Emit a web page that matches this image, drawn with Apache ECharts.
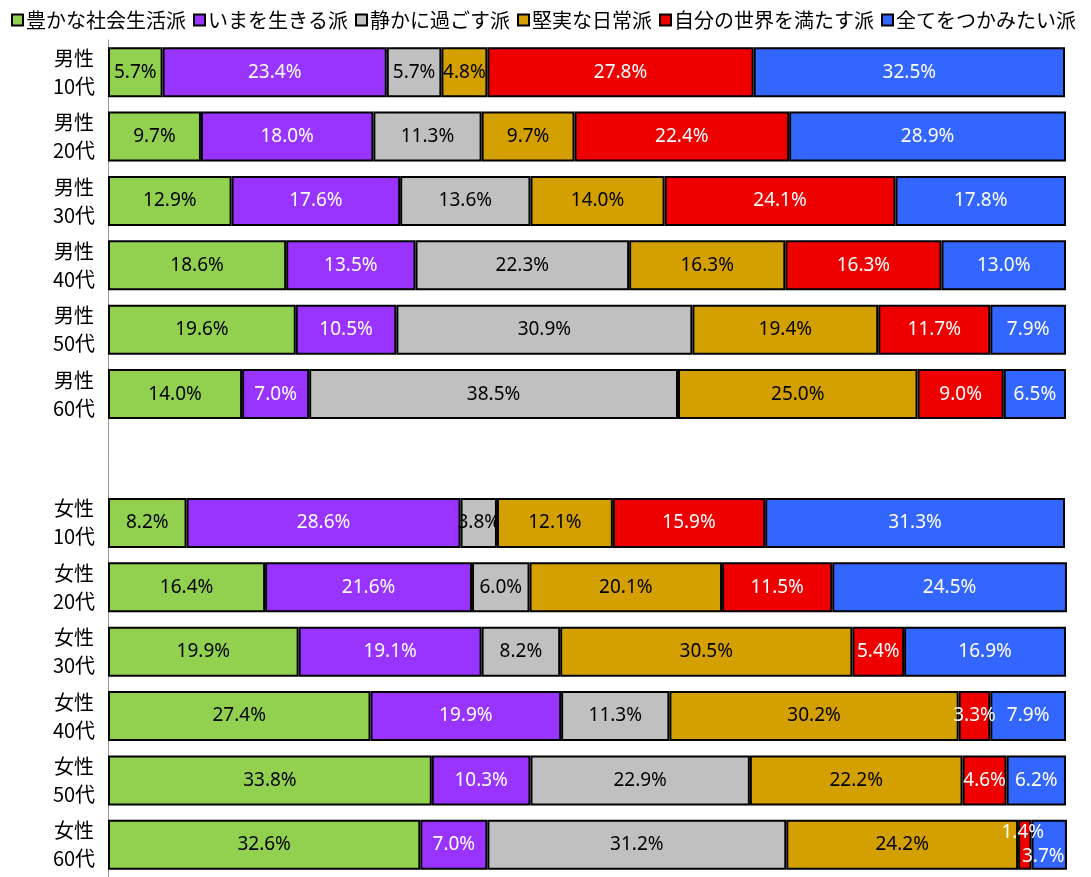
<!DOCTYPE html>
<html><head><meta charset="utf-8">
<script src="https://cdn.jsdelivr.net/npm/echarts@6/dist/echarts.min.js"></script>
<style>html,body{margin:0;padding:0;background:#fff}#c{width:1091px;height:877px}</style>
</head><body><div id="c"></div>
<script>
const categories = ['男性\n10代','男性\n20代','男性\n30代','男性\n40代','男性\n50代','男性\n60代','',
  '女性\n10代','女性\n20代','女性\n30代','女性\n40代','女性\n50代','女性\n60代'];
const seriesNames = ['豊かな社会生活派','いまを生きる派','静かに過ごす派','堅実な日常派','自分の世界を満たす派','全てをつかみたい派'];
const yutaka   = [5.7, 9.7, 12.9, 18.6, 19.6, 14.0, null, 8.2, 16.4, 19.9, 27.4, 33.8, 32.6];
const imawo    = [23.4, 18.0, 17.6, 13.5, 10.5, 7.0, null, 28.6, 21.6, 19.1, 19.9, 10.3, 7.0];
const shizuka  = [5.7, 11.3, 13.6, 22.3, 30.9, 38.5, null, 3.8, 6.0, 8.2, 11.3, 22.9, 31.2];
const kenjitsu = [4.8, 9.7, 14.0, 16.3, 19.4, 25.0, null, 12.1, 20.1, 30.5, 30.2, 22.2, 24.2];
const jibun    = [27.8, 22.4, 24.1, 16.3, 11.7, 9.0, null, 15.9, 11.5, 5.4, 3.3, 4.6, 1.4];
const subete   = [32.5, 28.9, 17.8, 13.0, 7.9, 6.5, null, 31.3, 24.5, 16.9, 7.9, 6.2, 3.7];

const values = [yutaka, imawo, shizuka, kenjitsu, jibun, subete];
const colors = ['#92D050','#9933FF','#C0C0C0','#D4A000','#EE0000','#3366FF'];
const labelColors = ['#000','#fff','#000','#000','#fff','#fff'];
const FONT = '"Noto Sans CJK JP", "Noto Sans", sans-serif';
const LABEL_FONT = '"Noto Sans", "Noto Sans CJK JP", sans-serif';

const series = values.map((arr, si) => ({
  name: seriesNames[si],
  type: 'bar',
  stack: 'total',
  barWidth: 50,
  itemStyle: { color: colors[si], borderColor: '#000', borderWidth: 2 },
  label: {
    show: true, position: 'inside', color: labelColors[si],
    fontFamily: LABEL_FONT, fontSize: 19, fontWeight: 'normal',
    formatter: p => p.value == null ? '' : p.value.toFixed(1) + '%'
  },
  data: arr.map((v, i) => {
    const d = { value: v };
    if (i === 12 && si === 4) d.label = { offset: [-2, -12] };
    if (i === 12 && si === 5) d.label = { offset: [-6, 12] };
    return d;
  })
}));

const chart = echarts.init(document.getElementById('c'), null, { renderer: 'canvas' });
chart.setOption({
  animation: false,
  textStyle: { fontFamily: FONT },
  legend: {
    left: 6, top: 5, itemWidth: 11, itemHeight: 11, itemGap: 7,
    icon: 'rect',
    textStyle: { fontFamily: FONT, fontSize: 20, color: '#000', padding: [0, 0, 0, -2] },
    data: seriesNames
  },
  grid: { left: 108, right: 25, top: 40, height: 845, containLabel: false },
  xAxis: { type: 'value', min: 0, max: 100, show: false },
  yAxis: {
    type: 'category', inverse: true, data: categories,
    axisLine: { show: true, lineStyle: { color: '#999', width: 1 } },
    axisTick: { show: false },
    axisLabel: { fontFamily: FONT, fontSize: 20, color: '#000', lineHeight: 28, margin: 34, align: 'center' }
  },
  series
});
</script></body></html>
